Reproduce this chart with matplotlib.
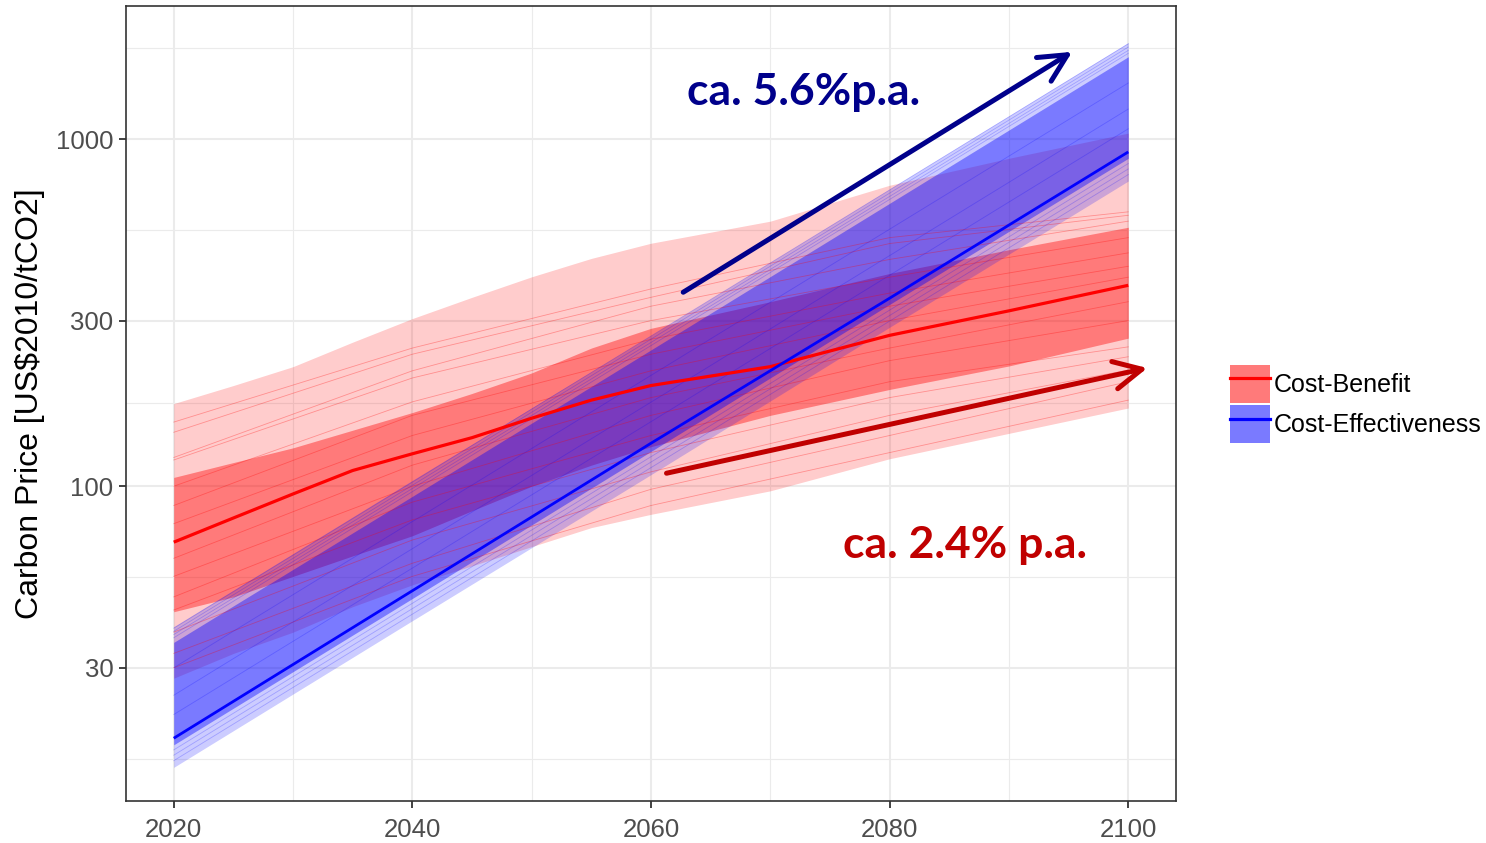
import matplotlib
matplotlib.use('Agg')  # headless
import matplotlib.pyplot as plt
from matplotlib.patches import Patch
from matplotlib.lines import Line2D
from matplotlib.ticker import FixedLocator, FixedFormatter, NullFormatter

# --- Data (US$2010/tCO2) ---
# Cost-Benefit scenarios
CB_YEARS = [2020, 2025, 2030, 2035, 2040, 2045, 2050, 2055, 2060, 2070, 2080, 2090, 2100]
CB_MEDIAN = [69, 81, 95, 111, 124, 138, 157, 177, 195, 221, 272, 320, 379]
CB_INNER_LO = [43.5, 48, 55, 63, 72, 85, 100, 115, 130, 160, 190, 222, 267]
CB_INNER_HI = [106, 117, 129, 145, 163, 185, 212, 250, 285, 340, 410, 480, 557]
CB_OUTER_LO = [28, 33, 38, 45, 52, 59, 67, 76, 83, 97, 120, 142, 168]
CB_OUTER_HI = [173, 195, 221, 260, 304, 350, 401, 453, 501, 580, 736, 880, 1040]

# individual Cost-Benefit runs
CB_RUN_YEARS = [2020, 2040, 2060, 2080, 2100]
CB_RUNS = [
    [153, 250, 370, 520, 617],
    [143, 240, 350, 500, 603],
    [121, 215, 330, 450, 580],
    [119, 205, 300, 400, 520],
    [100, 175, 265, 360, 470],
    [88, 160, 240, 330, 430],
    [78, 140, 215, 300, 400],
    [62, 115, 180, 250, 340],
    [55, 100, 160, 230, 300],
    [48, 90, 140, 200, 252],
    [44, 80, 125, 180, 236],
    [38, 70, 110, 160, 216],
    [33, 60, 98, 140, 200],
    [30, 55, 88, 125, 177],
]

# Cost-Effectiveness scenarios
CE_YEARS = [2020, 2040, 2060, 2080, 2100]
CE_MEDIAN = [18.8, 50, 133, 348, 918]
CE_INNER_LO = [18.0, 47.5, 126, 334, 880]
CE_INNER_HI = [35.5, 93.5, 247, 653, 1726]
CE_OUTER_LO = [15.5, 41, 108, 287, 757]
CE_OUTER_HI = [39.4, 104, 272, 718, 1896]

# individual Cost-Effectiveness runs (2020, 2100)
CE_RUN_YEARS = [2020, 2100]
CE_RUNS = [
    [39.0, 1880], [38.2, 1840], [37.4, 1800], [36.6, 1765],
    [30.0, 1450], [25.0, 1220], [22.0, 1070],
    [17.4, 850], [16.8, 820], [16.2, 790],
]

Y_TICKS = [30, 100, 300, 1000]
X_TICKS = [2020, 2040, 2060, 2080, 2100]

plt.rcParams['font.family'] = ['Liberation Sans', 'DejaVu Sans']

fig = plt.figure(figsize=(14.86, 8.43), dpi=100)
ax = fig.add_axes([126 / 1486, 1 - 801 / 843, 1050 / 1486, 795 / 843])

# ribbons: red first, blue on top
ax.fill_between(CB_YEARS, CB_OUTER_LO, CB_OUTER_HI, color='red', alpha=0.2, lw=0)
ax.fill_between(CB_YEARS, CB_INNER_LO, CB_INNER_HI, color='red', alpha=0.4, lw=0)
ax.fill_between(CE_YEARS, CE_OUTER_LO, CE_OUTER_HI, color='blue', alpha=0.2, lw=0)
ax.fill_between(CE_YEARS, CE_INNER_LO, CE_INNER_HI, color='blue', alpha=0.4, lw=0)

for run in CB_RUNS:
    ax.plot(CB_RUN_YEARS, run, color='red', alpha=0.3, lw=0.6)
for run in CE_RUNS:
    ax.plot(CE_RUN_YEARS, run, color='blue', alpha=0.22, lw=0.6)

ax.plot(CB_YEARS, CB_MEDIAN, color='red', lw=2.3, solid_capstyle='butt')
ax.plot(CE_YEARS, CE_MEDIAN, color='blue', lw=2.0, solid_capstyle='butt')

# axes styling (theme_bw look)
ax.set_yscale('log')
ax.set_xlim(2016, 2104)
ax.set_ylim(12.4, 2416)
ax.yaxis.set_major_locator(FixedLocator(Y_TICKS))
ax.yaxis.set_major_formatter(FixedFormatter([str(t) for t in Y_TICKS]))
ax.yaxis.set_minor_locator(FixedLocator([16.4, 54.8, 173.2, 547.7, 1826]))
ax.yaxis.set_minor_formatter(NullFormatter())
ax.xaxis.set_major_locator(FixedLocator(X_TICKS))
ax.xaxis.set_minor_locator(FixedLocator([2030, 2050, 2070, 2090]))

ax.grid(which='major', color='#ebebeb', lw=1.5)
ax.grid(which='minor', color='#ebebeb', lw=0.8)
ax.set_axisbelow(True)
ax.tick_params(which='major', length=5, width=1.3, color='#333333',
               labelsize=18.5, labelcolor='#4d4d4d')
ax.tick_params(axis='x', which='major', pad=7)
ax.tick_params(axis='y', which='major', pad=4)
ax.tick_params(which='minor', length=0)
for s in ax.spines.values():
    s.set_color('#333333')
    s.set_linewidth(1.2)

ax.set_ylabel('Carbon Price [US$2010/tCO2]', fontsize=23, color='black', va='center')
ax.yaxis.set_label_coords(-0.0914, 0.5)

# growth-rate annotations
ax.annotate('', xy=(2095.3, 1783), xytext=(2062.7, 362),
            arrowprops=dict(arrowstyle='->', lw=3.6, color='#00008b', mutation_scale=50,
                            shrinkA=0, shrinkB=0))
ax.annotate('', xy=(2101.6, 219), xytext=(2061.3, 109),
            arrowprops=dict(arrowstyle='->', lw=3.6, color='#c00000', mutation_scale=50,
                            shrinkA=0, shrinkB=0))
ax.text(2072.8, 1365, 'ca. 5.6%p.a.', color='#00008b', fontsize=32, fontweight='bold',
        family=['Lato', 'DejaVu Sans'], ha='center', va='center')
ax.text(2086.3, 67.6, 'ca. 2.4% p.a.', color='#c00000', fontsize=32, fontweight='bold',
        family=['Lato', 'DejaVu Sans'], ha='center', va='center')

# legend
handles = [
    (Patch(facecolor='red', alpha=0.52, lw=0), Line2D([], [], color='red', lw=2.3)),
    (Patch(facecolor='blue', alpha=0.52, lw=0), Line2D([], [], color='blue', lw=2.3)),
]
fig.legend(handles, ['Cost-Benefit', 'Cost-Effectiveness'], loc='center left',
           bbox_to_anchor=(1212 / 1486, 1 - 404 / 843), frameon=False, fontsize=18,
           handlelength=1.6, handleheight=1.95, labelspacing=0.1, handletextpad=0.16,
           borderpad=0.2)

fig.savefig('out.png', dpi=100)
